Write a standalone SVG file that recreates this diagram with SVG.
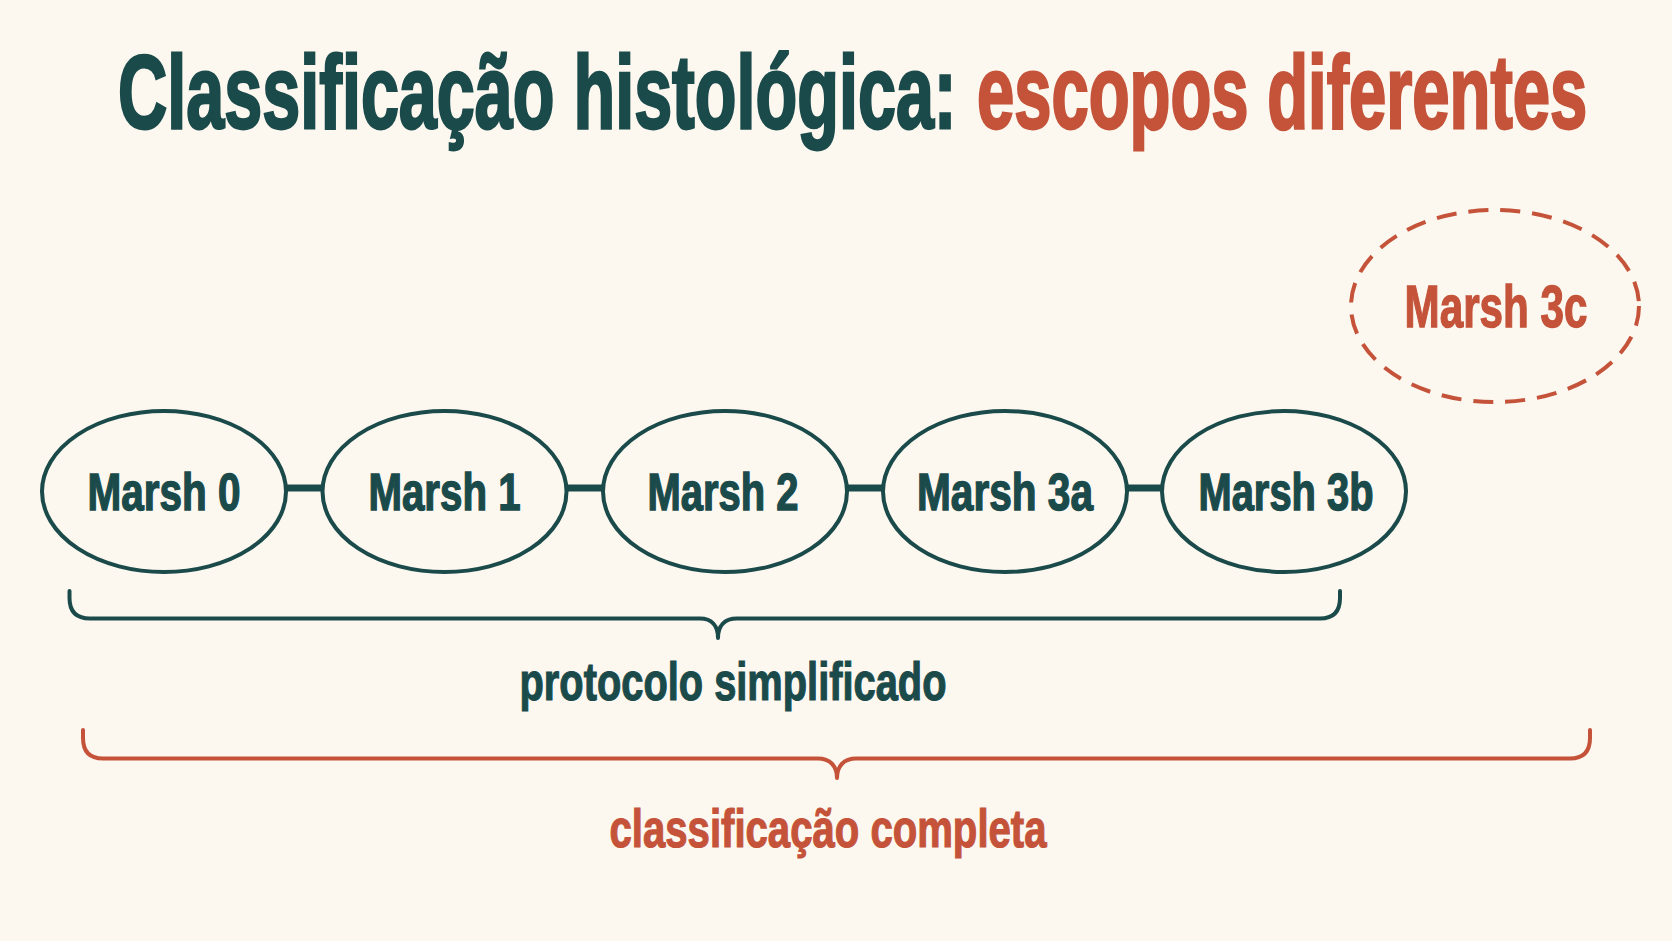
<svg xmlns="http://www.w3.org/2000/svg" width="1672" height="941" viewBox="0 0 1672 941">
<style>
.bg{fill:#fcf8f0}
.t{font-family:"Liberation Sans",Arial,sans-serif;font-weight:bold}
.teal{fill:#1b4a4b;stroke:#1b4a4b}
.orng{fill:#c4533a;stroke:#c4533a}
.node{fill:none;stroke:#1b4a4b;stroke-width:4}
.dash{fill:none;stroke:#c4533a;stroke-width:4;stroke-dasharray:20 12}
.link{stroke:#1b4a4b;stroke-width:7;fill:none}
.brace{fill:none;stroke-width:4;stroke-linecap:round;stroke-linejoin:round}
.lbl{font-size:51px;stroke-width:1.4;text-anchor:middle}
.ttl{font-size:103px;stroke-width:2.8}
</style>
<rect class="bg" x="0" y="0" width="1672" height="941"/>
<g id="title">
<text class="t teal ttl" transform="translate(118 128) scale(0.663 1)" x="0" y="0">Classificação histológica:</text>
<text class="t orng ttl" transform="translate(977 128) scale(0.65 1)" x="0" y="0">escopos diferentes</text>
</g>
<g id="connectors">
<line class="link" x1="285" y1="488" x2="322" y2="488"/>
<line class="link" x1="566" y1="488" x2="603" y2="488"/>
<line class="link" x1="847" y1="488" x2="883" y2="488"/>
<line class="link" x1="1127" y1="488" x2="1162" y2="488"/>
</g>
<g id="node-marsh0">
<ellipse class="node" cx="164" cy="491.5" rx="122" ry="80.5"/>
<text class="t teal lbl" x="164" y="510" textLength="153" lengthAdjust="spacingAndGlyphs">Marsh 0</text>
</g>
<g id="node-marsh1">
<ellipse class="node" cx="444.5" cy="491.5" rx="122" ry="80.5"/>
<text class="t teal lbl" x="444.5" y="510" textLength="152" lengthAdjust="spacingAndGlyphs">Marsh 1</text>
</g>
<g id="node-marsh2">
<ellipse class="node" cx="725" cy="491.5" rx="122" ry="80.5"/>
<text class="t teal lbl" x="723" y="510" textLength="151" lengthAdjust="spacingAndGlyphs">Marsh 2</text>
</g>
<g id="node-marsh3a">
<ellipse class="node" cx="1005" cy="491.5" rx="122" ry="80.5"/>
<text class="t teal lbl" x="1005" y="510" textLength="176" lengthAdjust="spacingAndGlyphs">Marsh 3a</text>
</g>
<g id="node-marsh3b">
<ellipse class="node" cx="1284" cy="491.5" rx="122" ry="80.5"/>
<text class="t teal lbl" x="1286" y="510" textLength="175" lengthAdjust="spacingAndGlyphs">Marsh 3b</text>
</g>
<g id="node-marsh3c">
<ellipse class="dash" cx="1495" cy="306" rx="144" ry="96"/>
<text class="t orng" x="1496" y="327" font-size="60" stroke-width="1.4" text-anchor="middle" textLength="183" lengthAdjust="spacingAndGlyphs">Marsh 3c</text>
</g>
<g id="brace-protocolo">
<path class="brace" stroke="#1b4a4b" d="M69.5,591 V598 Q69.5,618.5 90,618.5 H700 C712,618.5 718,626 718,638 C718,626 724,618.5 737,618.5 H1320 Q1340,618.5 1340,598 V591"/>
<text class="t teal" x="733" y="700" font-size="53" stroke-width="1.2" text-anchor="middle" textLength="427" lengthAdjust="spacingAndGlyphs">protocolo simplificado</text>
</g>
<g id="brace-completa">
<path class="brace" stroke="#c4533a" d="M83,730 V738 Q83,758.5 103,758.5 H818 C830,758.5 837,766 837,778 C837,766 844,758.5 856,758.5 H1570 Q1590,758.5 1590,738 V730"/>
<text class="t orng" x="828" y="846.5" font-size="54" stroke-width="1.2" text-anchor="middle" textLength="437" lengthAdjust="spacingAndGlyphs">classificação completa</text>
</g>
</svg>
